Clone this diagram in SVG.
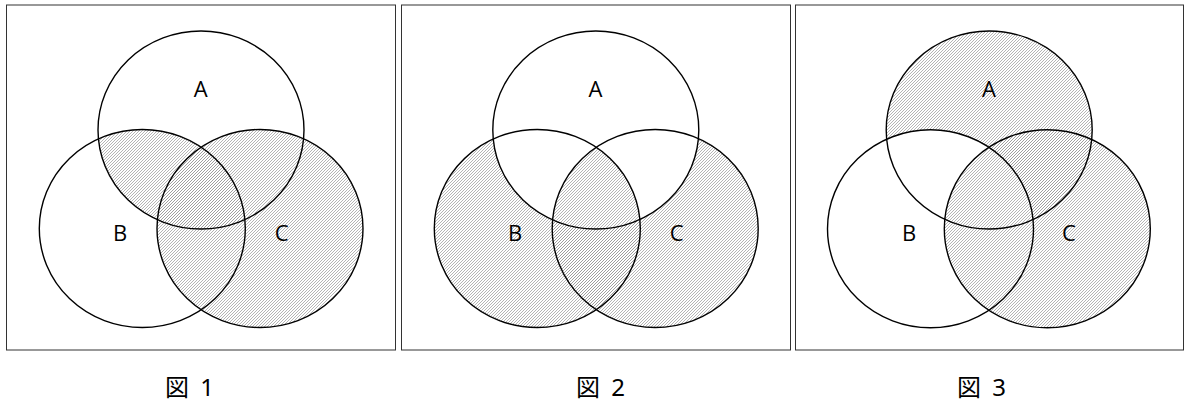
<svg xmlns="http://www.w3.org/2000/svg" width="1187" height="401" viewBox="0 0 1187 401">
<style>
.box{fill:#fff;stroke:#333;stroke-width:1}
.ring{fill:none;stroke:#000;stroke-width:1.4}
.hatch{fill:url(#hatch);stroke:none}
.lbl{font-family:"Open Sans","Noto Sans",sans-serif;font-size:22px;fill:#000;text-anchor:middle}
.cap{font-family:"Noto Sans","Noto Sans CJK JP",sans-serif;font-size:24px;fill:#000;word-spacing:5px}
</style>
<defs>
<pattern id="hatch" patternUnits="userSpaceOnUse" width="3" height="3">
<path d="M-1,1 L1,-1 M0,3 L3,0 M2,4 L4,2" stroke="#959595" stroke-width="0.7" fill="none"/>
</pattern>
<clipPath id="p1B"><ellipse cx="142.3" cy="228.5" rx="103" ry="99"/></clipPath>
<clipPath id="p2B"><ellipse cx="537.3" cy="228.5" rx="103" ry="99"/></clipPath>
<clipPath id="p2C"><ellipse cx="655.2" cy="228.5" rx="103" ry="99"/></clipPath>
<mask id="m2notA" maskUnits="userSpaceOnUse" x="0" y="0" width="1187" height="401">
<rect x="0" y="0" width="1187" height="401" fill="#fff"/>
<ellipse cx="595.8" cy="130" rx="103" ry="99" fill="#000"/>
</mask>
<mask id="m3notB" maskUnits="userSpaceOnUse" x="0" y="0" width="1187" height="401">
<rect x="0" y="0" width="1187" height="401" fill="#fff"/>
<ellipse cx="930.5" cy="228.8" rx="103" ry="99" fill="#000"/>
</mask>
</defs>

<g id="panel1">
<rect class="box" x="6.5" y="5" width="389" height="345"/>
<g id="p1-shade">
<ellipse class="hatch" cx="260" cy="228.5" rx="103" ry="99"/>
<ellipse class="hatch" cx="201" cy="130" rx="103" ry="99" clip-path="url(#p1B)"/>
</g>
<g id="p1-A"><ellipse class="ring" cx="201" cy="130" rx="103" ry="99"/><text class="lbl" x="200.7" y="96.5">A</text></g>
<g id="p1-B"><ellipse class="ring" cx="142.3" cy="228.5" rx="103" ry="99"/><text class="lbl" x="120" y="241">B</text></g>
<g id="p1-C"><ellipse class="ring" cx="260" cy="228.5" rx="103" ry="99"/><text class="lbl" x="281.7" y="241">C</text></g>
<text id="cap1" class="cap" x="165" y="396">図 1</text>
</g>

<g id="panel2">
<rect class="box" x="401.5" y="5" width="389" height="345"/>
<g id="p2-shade">
<g mask="url(#m2notA)">
<ellipse class="hatch" cx="537.3" cy="228.5" rx="103" ry="99"/>
<ellipse class="hatch" cx="655.2" cy="228.5" rx="103" ry="99"/>
</g>
<g clip-path="url(#p2B)">
<ellipse class="hatch" cx="595.8" cy="130" rx="103" ry="99" clip-path="url(#p2C)"/>
</g>
</g>
<g id="p2-A"><ellipse class="ring" cx="595.8" cy="130" rx="103" ry="99"/><text class="lbl" x="595.5" y="96.5">A</text></g>
<g id="p2-B"><ellipse class="ring" cx="537.3" cy="228.5" rx="103" ry="99"/><text class="lbl" x="515" y="241">B</text></g>
<g id="p2-C"><ellipse class="ring" cx="655.2" cy="228.5" rx="103" ry="99"/><text class="lbl" x="676.7" y="241">C</text></g>
<text id="cap2" class="cap" x="576" y="396">図 2</text>
</g>

<g id="panel3">
<rect class="box" x="795.5" y="5" width="388" height="345"/>
<g id="p3-shade">
<ellipse class="hatch" cx="1047.3" cy="228.8" rx="103" ry="99"/>
<ellipse class="hatch" cx="989.2" cy="130" rx="103" ry="99" mask="url(#m3notB)"/>
</g>
<g id="p3-A"><ellipse class="ring" cx="989.2" cy="130" rx="103" ry="99"/><text class="lbl" x="989" y="96.5">A</text></g>
<g id="p3-B"><ellipse class="ring" cx="930.5" cy="228.8" rx="103" ry="99"/><text class="lbl" x="909" y="241">B</text></g>
<g id="p3-C"><ellipse class="ring" cx="1047.3" cy="228.8" rx="103" ry="99"/><text class="lbl" x="1069" y="241">C</text></g>
<text id="cap3" class="cap" x="957" y="396">図 3</text>
</g>
</svg>
